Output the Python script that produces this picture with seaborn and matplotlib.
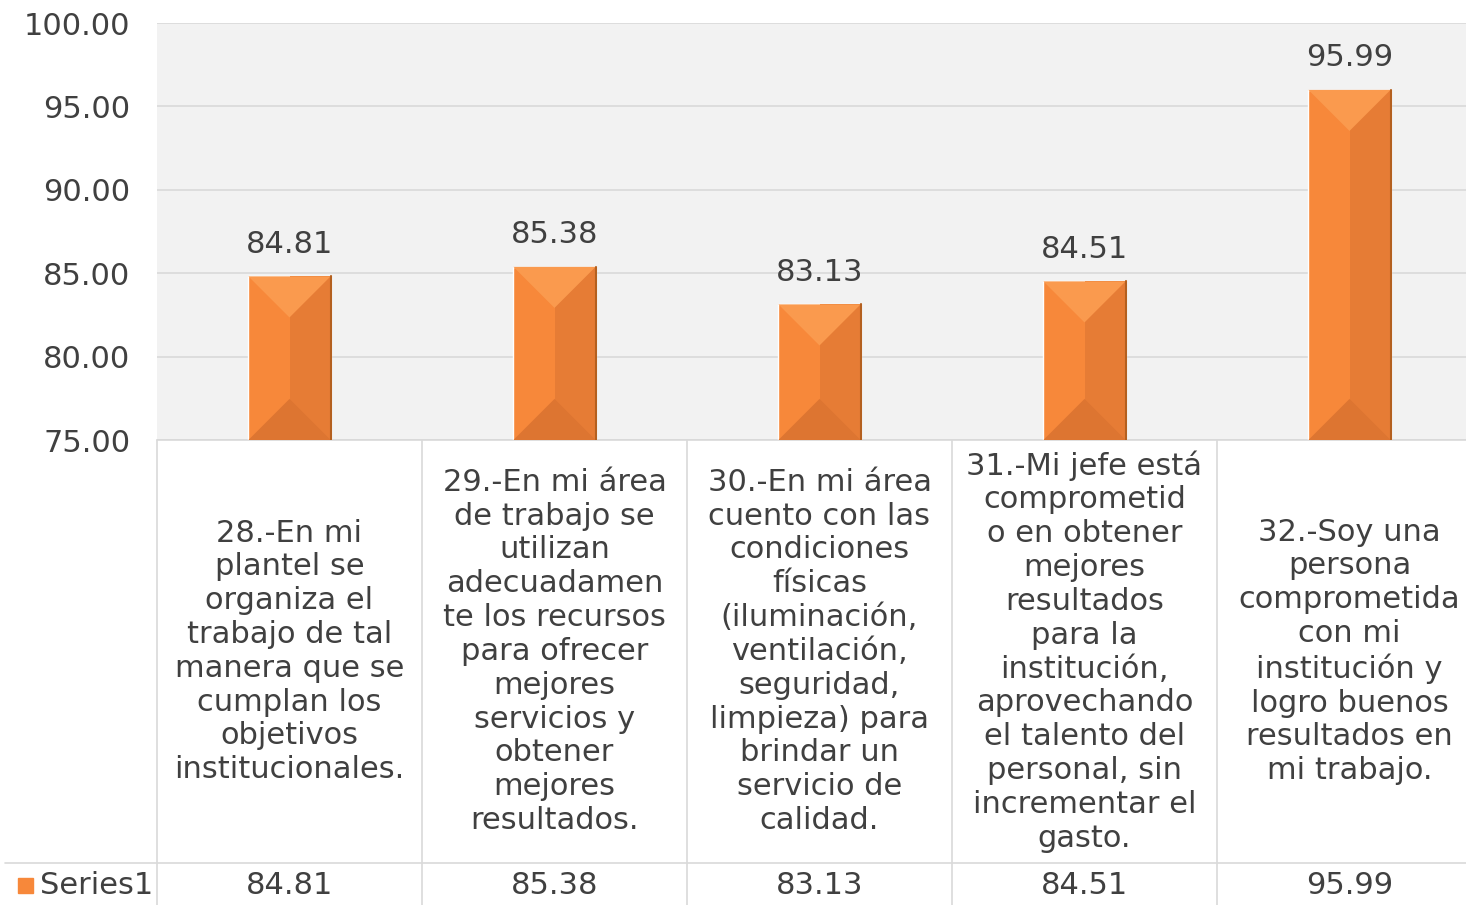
import matplotlib
matplotlib.use('Agg')
import matplotlib.pyplot as plt
from matplotlib.patches import Polygon, Rectangle
import seaborn as sns
import pandas as pd

categories = [
    "28.-En mi\nplantel se\norganiza el\ntrabajo de tal\nmanera que se\ncumplan los\nobjetivos\ninstitucionales.",
    "29.-En mi área\nde trabajo se\nutilizan\nadecuadamen\nte los recursos\npara ofrecer\nmejores\nservicios y\nobtener\nmejores\nresultados.",
    "30.-En mi área\ncuento con las\ncondiciones\nfísicas\n(iluminación,\nventilación,\nseguridad,\nlimpieza) para\nbrindar un\nservicio de\ncalidad.",
    "31.-Mi jefe está\ncomprometid\no en obtener\nmejores\nresultados\npara la\ninstitución,\naprovechando\nel talento del\npersonal, sin\nincrementar el\ngasto.",
    "32.-Soy una\npersona\ncomprometida\ncon mi\ninstitución y\nlogro buenos\nresultados en\nmi trabajo.",
]
values = [84.81, 85.38, 83.13, 84.51, 95.99]
series_name = "Series1"
y_ticks = [75, 80, 85, 90, 95, 100]

df = pd.DataFrame({'pregunta': categories, 'valor': values})

sns.set_theme(style='white')
plt.rcParams['font.family'] = ['DejaVu Sans']
text_color = '#404040'
grid_color = '#D9D9D9'
orange = '#F7883A'
fs = 22

W, H = 1466, 905
fig = plt.figure(figsize=(W / 100, H / 100), dpi=100)
# plot area runs a little past the right edge, as in the original
ax = fig.add_axes([157 / W, 1 - 440 / H, 1325 / W, 417 / H])
ax.set_facecolor('#F2F2F2')

sns.barplot(data=df, x='pregunta', y='valor', color=orange, width=0.31,
            saturation=1, ax=ax, zorder=3)

ax.set_ylim(75, 100)
ax.set_xlim(-0.5, len(values) - 0.5)
ax.set_yticks(y_ticks)
ax.set_yticklabels([f'{t:.2f}' for t in y_ticks], fontsize=fs, color=text_color)
ax.tick_params(axis='y', length=0, pad=19)
ax.set_xticks([])
ax.set_xlabel('')
ax.set_ylabel('')
ax.grid(axis='y', color=grid_color, linewidth=1.2, zorder=0)
for s in ax.spines.values():
    s.set_visible(False)

# bevel look on each bar
fig.canvas.draw()
ymin = ax.get_ylim()[0]
inv = ax.transData.inverted()
for bar in ax.patches[:len(values)]:
    x0 = bar.get_x()
    x1 = x0 + bar.get_width()
    xc = (x0 + x1) / 2
    y1 = bar.get_y() + bar.get_height()
    y0 = max(bar.get_y(), ymin)
    p0 = ax.transData.transform((x0, y1))
    p1 = ax.transData.transform((x1, y1))
    half_px = (p1[0] - p0[0]) / 2
    d = y1 - inv.transform((p0[0], p0[1] - half_px))[1]
    ax.add_patch(Polygon([(xc, y0), (x1, y0), (x1, y1), (xc, y1)],
                         closed=True, color='#E67C35', zorder=4, lw=0))
    ax.add_patch(Polygon([(x0, y1), (x1, y1), (xc, y1 - d)],
                         closed=True, color='#FA9A4E', zorder=5, lw=0))
    ax.add_patch(Polygon([(x0, y0), (x1, y0), (xc, y0 + d)],
                         closed=True, color='#DD7531', zorder=5, lw=0))
    ax.plot([x1, x1], [y0, y1], color='#B4601F', lw=1.5, zorder=6)
    ax.annotate(f'{y1:.2f}', (xc, y1), xytext=(0, 23), textcoords='offset points',
                ha='center', va='center', fontsize=fs, color=text_color)

# data table below the plot
tr = ax.get_xaxis_transform()
ax.plot([0, 1.0], [0, 0], transform=ax.transAxes, color=grid_color,
        lw=1.2, clip_on=False, zorder=2)
for k in range(len(values)):
    ax.plot([k - 0.5, k - 0.5], [0, -1.12], transform=tr, color=grid_color,
            lw=1.2, clip_on=False)
    ax.text(k, -0.507, categories[k], transform=tr, ha='center', va='center',
            fontsize=fs, color=text_color, linespacing=1.21)
    ax.text(k, -1.0695, f'{values[k]:.2f}', transform=tr, ha='center',
            va='center', fontsize=fs, color=text_color)
x_left = (5 - 157) / 1325
ax.plot([x_left, 1.0], [-1.0144, -1.0144], transform=ax.transAxes,
        color=grid_color, lw=1.2, clip_on=False)
ax.add_patch(Rectangle(((18 - 157) / 1325, -1.0863), 15 / 1325, 0.036,
                       transform=ax.transAxes, color=orange, clip_on=False))
ax.text((40 - 157) / 1325, -1.0695, series_name, transform=ax.transAxes,
        ha='left', va='center', fontsize=fs, color=text_color)

fig.savefig('out.png', dpi=100)
